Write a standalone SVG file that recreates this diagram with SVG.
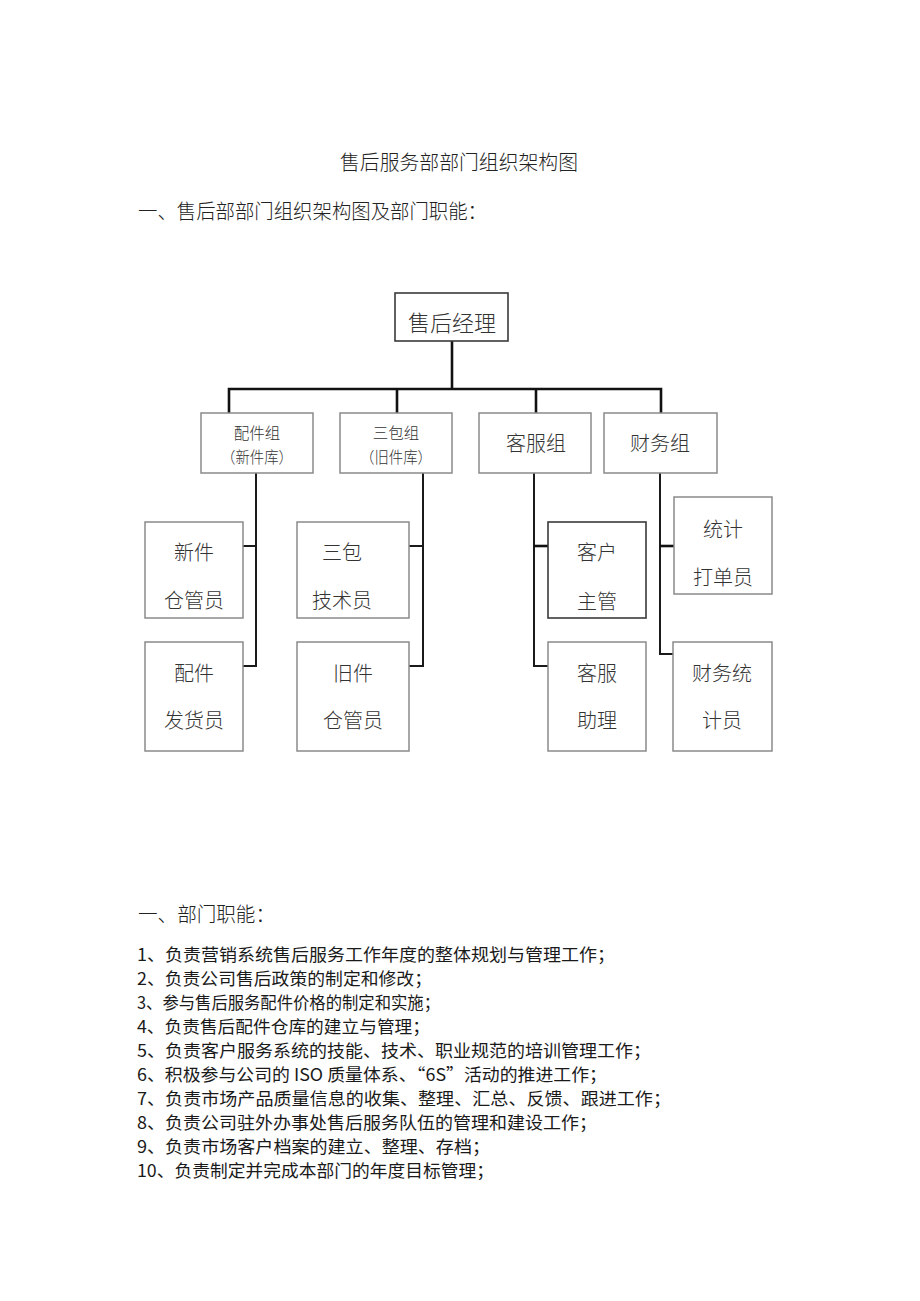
<svg xmlns="http://www.w3.org/2000/svg" width="920" height="1301" viewBox="0 0 920 1301">
<style>
.t{font-family:"Noto Sans CJK SC","Liberation Sans",sans-serif;fill:#222;}
.h{font-size:20px;font-weight:300;}
.lbl{font-size:20px;font-weight:300;fill:#333;text-anchor:middle;}
.sm{font-size:15.5px;font-weight:300;fill:#333;text-anchor:middle;}
.li{font-size:17px;font-weight:400;fill:#1a1a1a;}
.box{fill:#fff;stroke:#8a8a8a;stroke-width:1.5;}
.dark{fill:#fff;stroke:#3a3a3a;stroke-width:1.6;}
.c{fill:none;stroke:#1a1a1a;stroke-width:2;}
.ct{fill:none;stroke:#111;stroke-width:2.6;}
</style>
<rect width="920" height="1301" fill="#fff"/>
<text class="t h" x="340" y="170" textLength="238" lengthAdjust="spacingAndGlyphs">售后服务部部门组织架构图</text>
<text class="t h" x="138" y="219" textLength="349" lengthAdjust="spacingAndGlyphs">一、售后部部门组织架构图及部门职能：</text>

<g id="connectors">
<polyline class="ct" points="452,341 452,389"/>
<polyline class="ct" points="229,413 229,389 661,389 661,413"/>
<polyline class="ct" points="397,389 397,413"/>
<polyline class="ct" points="536,389 536,413"/>
<polyline class="c" points="256,473 256,666 243,666"/>
<polyline class="c" points="256,546 243,546"/>
<polyline class="c" points="423,473 423,666 409,666"/>
<polyline class="c" points="423,546 409,546"/>
<polyline class="c" points="534,473 534,666 548,666"/>
<polyline class="ct" points="534,546 548,546"/>
<polyline class="c" points="660,473 660,654 673,654"/>
<polyline class="ct" points="660,546 674,546"/>
</g>

<g id="n-manager"><rect class="dark" x="395" y="293" width="113" height="48"/><text class="t lbl" x="452" y="331" style="font-size:22px">售后经理</text></g>

<g id="n-parts"><rect class="box" x="201" y="413" width="112" height="60"/><text class="t sm" x="257" y="439">配件组</text><text class="t sm" x="257" y="463" textLength="72" lengthAdjust="spacingAndGlyphs">（新件库）</text></g>
<g id="n-warranty"><rect class="box" x="340" y="413" width="112" height="60"/><text class="t sm" x="396" y="439">三包组</text><text class="t sm" x="396" y="463" textLength="72" lengthAdjust="spacingAndGlyphs">（旧件库）</text></g>
<g id="n-cs"><rect class="box" x="479" y="413" width="112" height="60"/><text class="t lbl" x="536" y="451">客服组</text></g>
<g id="n-fin"><rect class="box" x="604" y="413" width="113" height="60"/><text class="t lbl" x="660" y="451">财务组</text></g>

<g id="n-newwh"><rect class="box" x="145" y="522" width="98" height="96"/><text class="t lbl" x="194" y="560">新件</text><text class="t lbl" x="194" y="608">仓管员</text></g>
<g id="n-ship"><rect class="box" x="145" y="642" width="98" height="109"/><text class="t lbl" x="194" y="681">配件</text><text class="t lbl" x="194" y="728">发货员</text></g>
<g id="n-tech"><rect class="box" x="297" y="522" width="112" height="96"/><text class="t lbl" x="342" y="560">三包</text><text class="t lbl" x="342" y="608">技术员</text></g>
<g id="n-oldwh"><rect class="box" x="297" y="642" width="112" height="109"/><text class="t lbl" x="353" y="681">旧件</text><text class="t lbl" x="353" y="728">仓管员</text></g>
<g id="n-cust"><rect class="dark" x="548" y="522" width="98" height="96"/><text class="t lbl" x="597" y="560">客户</text><text class="t lbl" x="597" y="609">主管</text></g>
<g id="n-csa"><rect class="box" x="548" y="642" width="98" height="109"/><text class="t lbl" x="597" y="681">客服</text><text class="t lbl" x="597" y="728">助理</text></g>
<g id="n-stat"><rect class="box" x="674" y="497" width="98" height="97"/><text class="t lbl" x="723" y="537">统计</text><text class="t lbl" x="723" y="585">打单员</text></g>
<g id="n-acct"><rect class="box" x="673" y="642" width="99" height="109"/><text class="t lbl" x="722" y="681">财务统</text><text class="t lbl" x="722" y="728">计员</text></g>

<text class="t h" x="138" y="922" textLength="137" lengthAdjust="spacingAndGlyphs">一、部门职能：</text>
<g class="t li">
<text x="137" y="961" textLength="478" lengthAdjust="spacingAndGlyphs">1、负责营销系统售后服务工作年度的整体规划与管理工作；</text>
<text x="137" y="985" textLength="295" lengthAdjust="spacingAndGlyphs">2、负责公司售后政策的制定和修改；</text>
<text x="137" y="1009" textLength="303" lengthAdjust="spacingAndGlyphs">3、参与售后服务配件价格的制定和实施；</text>
<text x="137" y="1033" textLength="293" lengthAdjust="spacingAndGlyphs">4、负责售后配件仓库的建立与管理；</text>
<text x="137" y="1057" textLength="514" lengthAdjust="spacingAndGlyphs">5、负责客户服务系统的技能、技术、职业规范的培训管理工作；</text>
<text x="137" y="1081" textLength="470" lengthAdjust="spacingAndGlyphs">6、积极参与公司的 ISO 质量体系、“6S”活动的推进工作；</text>
<text x="137" y="1105" textLength="534" lengthAdjust="spacingAndGlyphs">7、负责市场产品质量信息的收集、整理、汇总、反馈、跟进工作；</text>
<text x="137" y="1129" textLength="460" lengthAdjust="spacingAndGlyphs">8、负责公司驻外办事处售后服务队伍的管理和建设工作；</text>
<text x="137" y="1153" textLength="353" lengthAdjust="spacingAndGlyphs">9、负责市场客户档案的建立、整理、存档；</text>
<text x="137" y="1177" textLength="357" lengthAdjust="spacingAndGlyphs">10、负责制定并完成本部门的年度目标管理；</text>
</g>
</svg>
